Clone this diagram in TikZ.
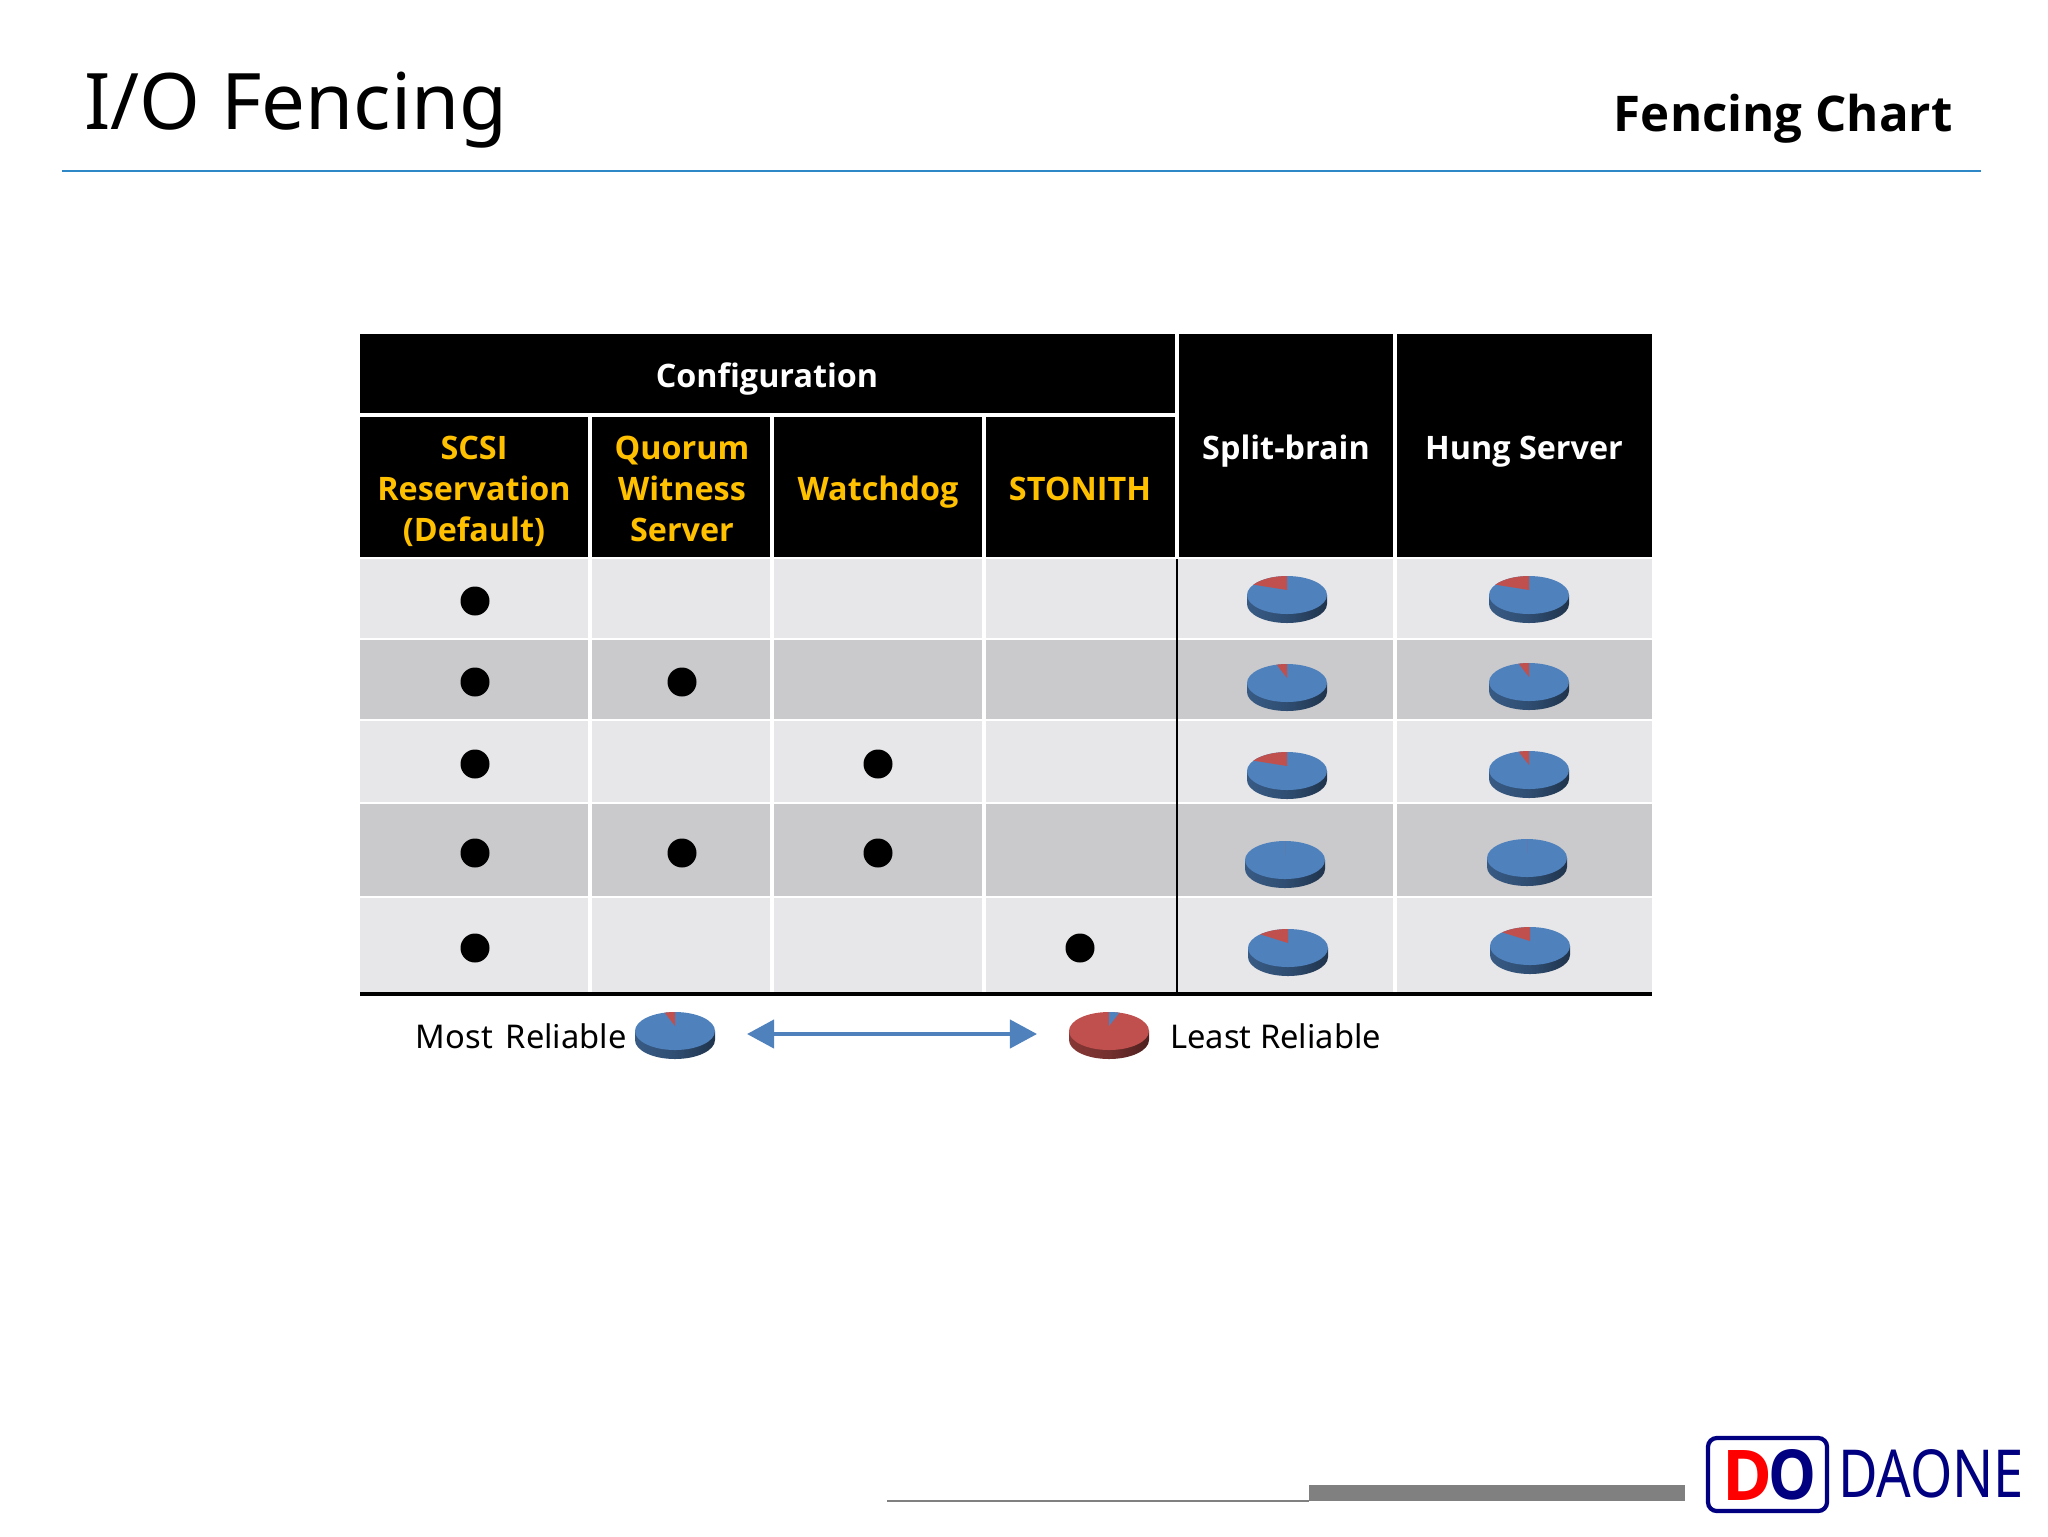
\documentclass[tikz,border=0pt]{standalone}
\usepackage{fontspec}
\setmainfont{Noto Sans}
\newfontfamily\headfont{Open Sans}
\usetikzlibrary{arrows.meta}

\definecolor{headyellow}{RGB}{255,192,0}
\definecolor{rowlight}{RGB}{231,230,232}
\definecolor{rowdark}{RGB}{202,201,203}
\definecolor{pieblue}{RGB}{79,129,189}
\definecolor{piered}{RGB}{192,80,77}
\definecolor{ruleblue}{RGB}{46,136,200}
\definecolor{logonavy}{RGB}{0,0,128}

\tikzset{
    headtext/.style={inner sep=0pt, align=center, font=\fontsize{18.4}{23.3}\selectfont\headfont\bfseries},
    dotmark/.style={circle, fill=black, minimum size=29*0.02cm, inner sep=0pt},
    plaintext/.style={inner sep=0pt, font=\fontsize{18.6}{22.8}\selectfont}
}

% center x, center y, angle of the wedge, top colour, wedge colour
\newcommand{\piechart}[5]{
    \shade[left color=#4!70!black, right color=#4!40!black, middle color=#4!60!black]
        (#1-40,#2) -- (#1-40,#2+9) arc[start angle=180, end angle=0, x radius=40, y radius=19]
        -- (#1+40,#2) -- cycle;
    \fill[#4] (#1,#2) ellipse [x radius=40, y radius=19];
    \fill[#5] (#1,#2-5) -- (#1,#2-19) arc[start angle=270, end angle=#3, x radius=40, y radius=19] -- cycle;
}

\begin{document}
\begin{tikzpicture}[x=0.02cm, y=-0.02cm]

    \useasboundingbox (0,0) rectangle (2048,1536);

    % Title
    \node[anchor=base west, inner sep=0pt, font=\fontsize{44.4}{56}\selectfont] (title) at (84,129) {I/O Fencing};
    \node[anchor=base east, inner sep=0pt, font=\fontsize{28}{34}\selectfont\headfont\bfseries] (subtitle) at (1953,131) {Fencing Chart};
    \draw[ruleblue, line width=1.2pt] (62,171) -- (1981,171);

    % Header
    \fill[black] (360,334) rectangle (1652,557);
    \foreach \x in {1177,1395} \draw[white, line width=1.8pt] (\x,334) -- (\x,557);
    \draw[white, line width=1.8pt] (360,415) -- (1177,415);
    \foreach \x in {590,772,984} \draw[white, line width=1.8pt] (\x,415) -- (\x,557);
    \node[headtext, white, anchor=base] (config) at (767,387) {Configuration};
    \node[headtext, headyellow] (scsi) at (474,491) {SCSI\\Reservation\\(Default)};
    \node[headtext, headyellow] (quorum) at (682,489) {Quorum\\Witness\\Server};
    \node[headtext, headyellow, anchor=base] (watchdog) at (878,500) {Watchdog};
    \node[headtext, headyellow, anchor=base] (stonith) at (1080,500) {STONITH};
    \node[headtext, white, anchor=base] (split) at (1286,459) {Split-brain};
    \node[headtext, white, anchor=base] (hung) at (1524,459) {Hung Server};

    % Rows
    \fill[rowlight] (360,559) rectangle (1652,638);
    \fill[rowdark] (360,640) rectangle (1652,719);
    \fill[rowlight] (360,721) rectangle (1652,802);
    \fill[rowdark] (360,804) rectangle (1652,896);
    \fill[rowlight] (360,898) rectangle (1652,993);
    \foreach \x in {590,772,984,1395} \draw[white, line width=1.8pt] (\x,559) -- (\x,993);
    \draw[black, line width=1.6pt] (1177,559) -- (1177,993);
    \draw[black, line width=1.8pt] (360,994) -- (1652,994);

    % Dots
    \foreach \y/\r in {601/a,682/b,764/c,853/d,948/e}
        \node[dotmark] (scsi\r) at (475,\y) {};
    \node[dotmark] (quorumb) at (682,682) {};
    \node[dotmark] (quorumd) at (682,853) {};
    \node[dotmark] (watchdogc) at (878,764) {};
    \node[dotmark] (watchdogd) at (878,853) {};
    \node[dotmark] (stonithe) at (1080,948) {};

    % Pies
    \piechart{1287}{595}{213}{pieblue}{piered}
    \piechart{1529}{595}{213}{pieblue}{piered}
    \piechart{1287}{683}{255}{pieblue}{piered}
    \piechart{1529}{682}{255}{pieblue}{piered}
    \piechart{1287}{771}{213}{pieblue}{piered}
    \piechart{1529}{770}{255}{pieblue}{piered}
    \piechart{1285}{860}{270}{pieblue}{piered}
    \piechart{1527}{858}{270}{pieblue}{piered}
    \piechart{1288}{948}{226}{pieblue}{piered}
    \piechart{1530}{946}{226}{pieblue}{piered}

    % Legend
    \node[plaintext, anchor=east] (most) at (627,1036) {Most\hspace{2.5pt} Reliable};
    \node[plaintext, anchor=west] (least) at (1170,1036) {Least Reliable};
    \piechart{675}{1031}{255}{pieblue}{piered}
    \piechart{1109}{1031}{285}{piered}{pieblue}
    \coordinate (arrowleft) at (747,1034);
    \coordinate (arrowright) at (1037,1034);
    \draw[{Triangle[length=15.4pt,width=16pt]}-{Triangle[length=15.4pt,width=16pt]}, pieblue, line width=2.3pt] (arrowleft) -- (arrowright);

    % Footer
    \draw[gray, line width=1pt] (887,1501) -- (1309,1501);
    \fill[gray] (1309,1485) rectangle (1685,1501);

    % Logo
    \draw[logonavy, line width=2.4pt, rounded corners=5pt] (1708,1438) rectangle (1827,1511);
    \node[inner sep=0pt, text=red] (logod) at (1747,1475) {\resizebox{1cm}{1cm}{\headfont\bfseries D}};
    \node[inner sep=0pt, text=logonavy] (logoo) at (1792,1475) {\resizebox{0.96cm}{1cm}{\headfont\bfseries O}};
    \node[inner sep=0pt, text=logonavy] (logoname) at (1931,1474) {\resizebox{3.72cm}{0.96cm}{DAONE}};

\end{tikzpicture}
\end{document}
